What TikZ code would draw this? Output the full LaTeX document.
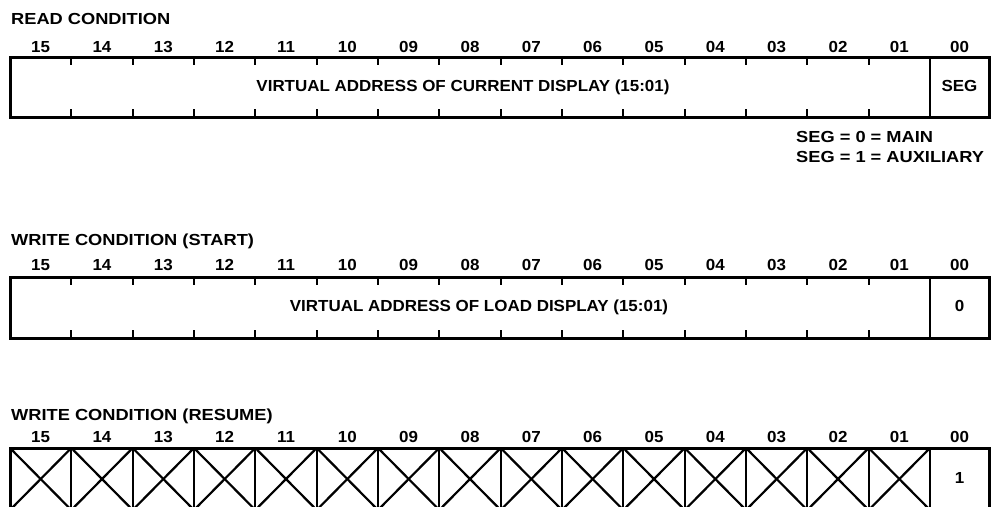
\documentclass[tikz,border=0pt]{standalone}
\usepackage{fontspec}
\setmainfont[FakeStretch=1.06]{Liberation Sans}
\newfontfamily\widefont[FakeStretch=1.14]{Liberation Sans}
\begin{document}
\begin{tikzpicture}[x=1pt,y=-1pt,
  lbl/.style={font=\bfseries\fontsize{16}{18}\selectfont, inner sep=0pt, anchor=base},
  title/.style={font=\widefont\bfseries\fontsize{16}{18}\selectfont, inner sep=0pt, anchor=base west},
  frame/.style={line width=3pt},
  tickline/.style={line width=1.8pt},
  divider/.style={line width=2pt},
  crossline/.style={line width=2.2pt}]
\clip (0,0) rectangle (993,506);
\def\L{10}\def\R{989}\def\D{930}\def\W{61.333}
% ---------- register 1 ----------
\node[title] (t1) at (11,24.5) {READ CONDITION};
\foreach \lab [count=\i from 0] in {15,14,13,12,11,10,09,08,07,06,05,04,03,02,01}
  \node[lbl] (a\i) at ({\L+(\i+0.5)*\W},52) {\lab};
\node[lbl] (a15) at ({(\D+\R)/2},52) {00};
\draw[frame] (\L,57) rectangle (\R,117);
\foreach \i in {1,...,14}{
  \draw[tickline] ({\L+\i*\W},57) -- ++(0,8);
  \draw[tickline] ({\L+\i*\W},117) -- ++(0,-8);}
\draw[divider] (\D,57) -- (\D,117);
\node[lbl] (f1) at (463,91.5) {VIRTUAL ADDRESS OF CURRENT DISPLAY (15:01)};
\node[lbl] (s1) at ({(\D+\R)/2},91.5) {SEG};
\node[title] (n1) at (796,142) {SEG = 0 = MAIN};
\node[title] (n2) at (796,162) {SEG = 1 = AUXILIARY};
% ---------- register 2 ----------
\node[title] (t2) at (11,245) {WRITE CONDITION (START)};
\foreach \lab [count=\i from 0] in {15,14,13,12,11,10,09,08,07,06,05,04,03,02,01}
  \node[lbl] (b\i) at ({\L+(\i+0.5)*\W},270) {\lab};
\node[lbl] (b15) at ({(\D+\R)/2},270) {00};
\draw[frame] (\L,277) rectangle (\R,338);
\foreach \i in {1,...,14}{
  \draw[tickline] ({\L+\i*\W},277) -- ++(0,8);
  \draw[tickline] ({\L+\i*\W},338) -- ++(0,-8);}
\draw[divider] (\D,277) -- (\D,338);
\node[lbl] (f2) at (479,311) {VIRTUAL ADDRESS OF LOAD DISPLAY (15:01)};
\node[lbl] (s2) at ({(\D+\R)/2},311) {0};
% ---------- register 3 ----------
\node[title] (t3) at (11,420) {WRITE CONDITION (RESUME)};
\foreach \lab [count=\i from 0] in {15,14,13,12,11,10,09,08,07,06,05,04,03,02,01}
  \node[lbl] (c\i) at ({\L+(\i+0.5)*\W},442) {\lab};
\node[lbl] (c15) at ({(\D+\R)/2},442) {00};
\foreach \i in {0,...,14}{
  \draw[crossline] ({\L+\i*\W},448) -- ({\L+(\i+1)*\W},510);
  \draw[crossline] ({\L+(\i+1)*\W},448) -- ({\L+\i*\W},510);}
\foreach \i in {1,...,14}
  \draw[crossline] ({\L+\i*\W},448) -- ({\L+\i*\W},510);
\draw[divider] (\D,448) -- (\D,510);
\draw[frame] (\L,448) rectangle (\R,510);
\node[lbl] (s3) at ({(\D+\R)/2},483) {1};
\end{tikzpicture}
\end{document}
